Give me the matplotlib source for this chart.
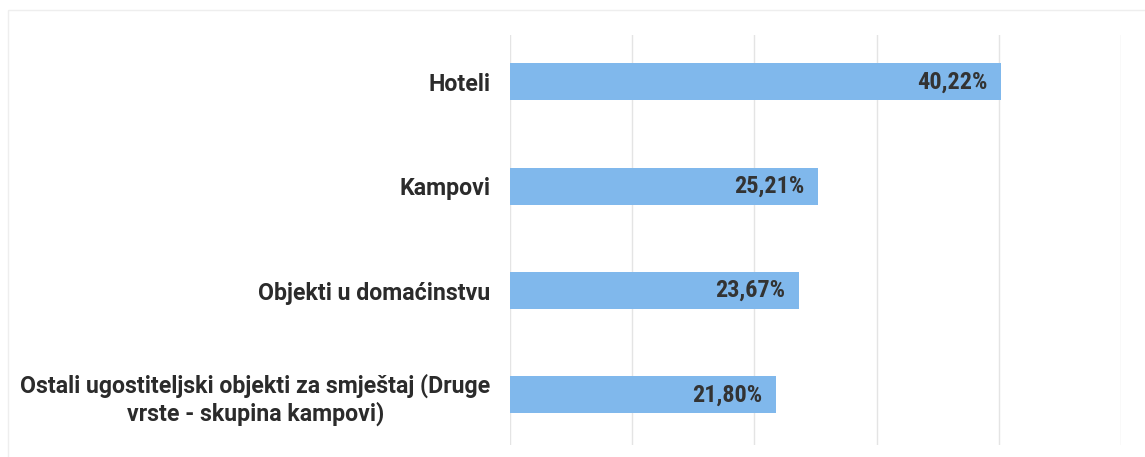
import matplotlib
matplotlib.use("Agg")
import matplotlib.pyplot as plt
from matplotlib import font_manager
from matplotlib.patches import Rectangle

categories = ["Hoteli", "Kampovi", "Objekti u domaćinstvu",
              "Ostali ugostiteljski objekti za smještaj (Druge\nvrste - skupina kampovi)"]
values = [40.22, 25.21, 23.67, 21.80]
value_labels = ["40,22%", "25,21%", "23,67%", "21,80%"]

avail = {f.name for f in font_manager.fontManager.ttflist}
def pick(names):
    return [f for f in names if f in avail] + ["DejaVu Sans"]
cat_font = pick(["Roboto"])
val_font = pick(["Roboto Condensed", "Roboto"])

fig = plt.figure(figsize=(11.45, 4.57), dpi=100)
fig.patches.append(Rectangle((8/1145, -0.1), 1.2, 1 - 10/457 + 0.1, transform=fig.transFigure,
                             fill=False, edgecolor="#EEEEEE", linewidth=1))
ax = fig.add_axes([510/1145, 1 - 445/457, (1121-510)/1145, (445-35)/457])

y = list(range(len(categories)))
ax.barh(y, values, height=0.355, color="#80B8EC", zorder=2)
ax.set_xlim(0, 50)
ax.set_ylim(3.48, -0.45)
ax.set_xticks([0, 10, 20, 30, 40, 50])
ax.set_xticklabels([])
ax.tick_params(axis='x', length=0)
ax.tick_params(axis='y', length=0, pad=14)
ax.grid(axis='x', color="#E4E4E4", linewidth=1, zorder=0)
for s in ax.spines.values():
    s.set_visible(False)
ax.set_yticks(y)
ax.set_yticklabels(categories, fontsize=16.7, fontweight='bold', color="#2b2b2b",
                   family=cat_font, multialignment='center', linespacing=1.2)

for yi, v, t in zip(y, values, value_labels):
    ax.annotate(t, (v, yi), xytext=(-10, 0), textcoords='offset points',
                ha='right', va='center', fontsize=17.5, fontweight='bold',
                color="#333333", family=val_font, zorder=3)

fig.savefig("out.png", dpi=100)
